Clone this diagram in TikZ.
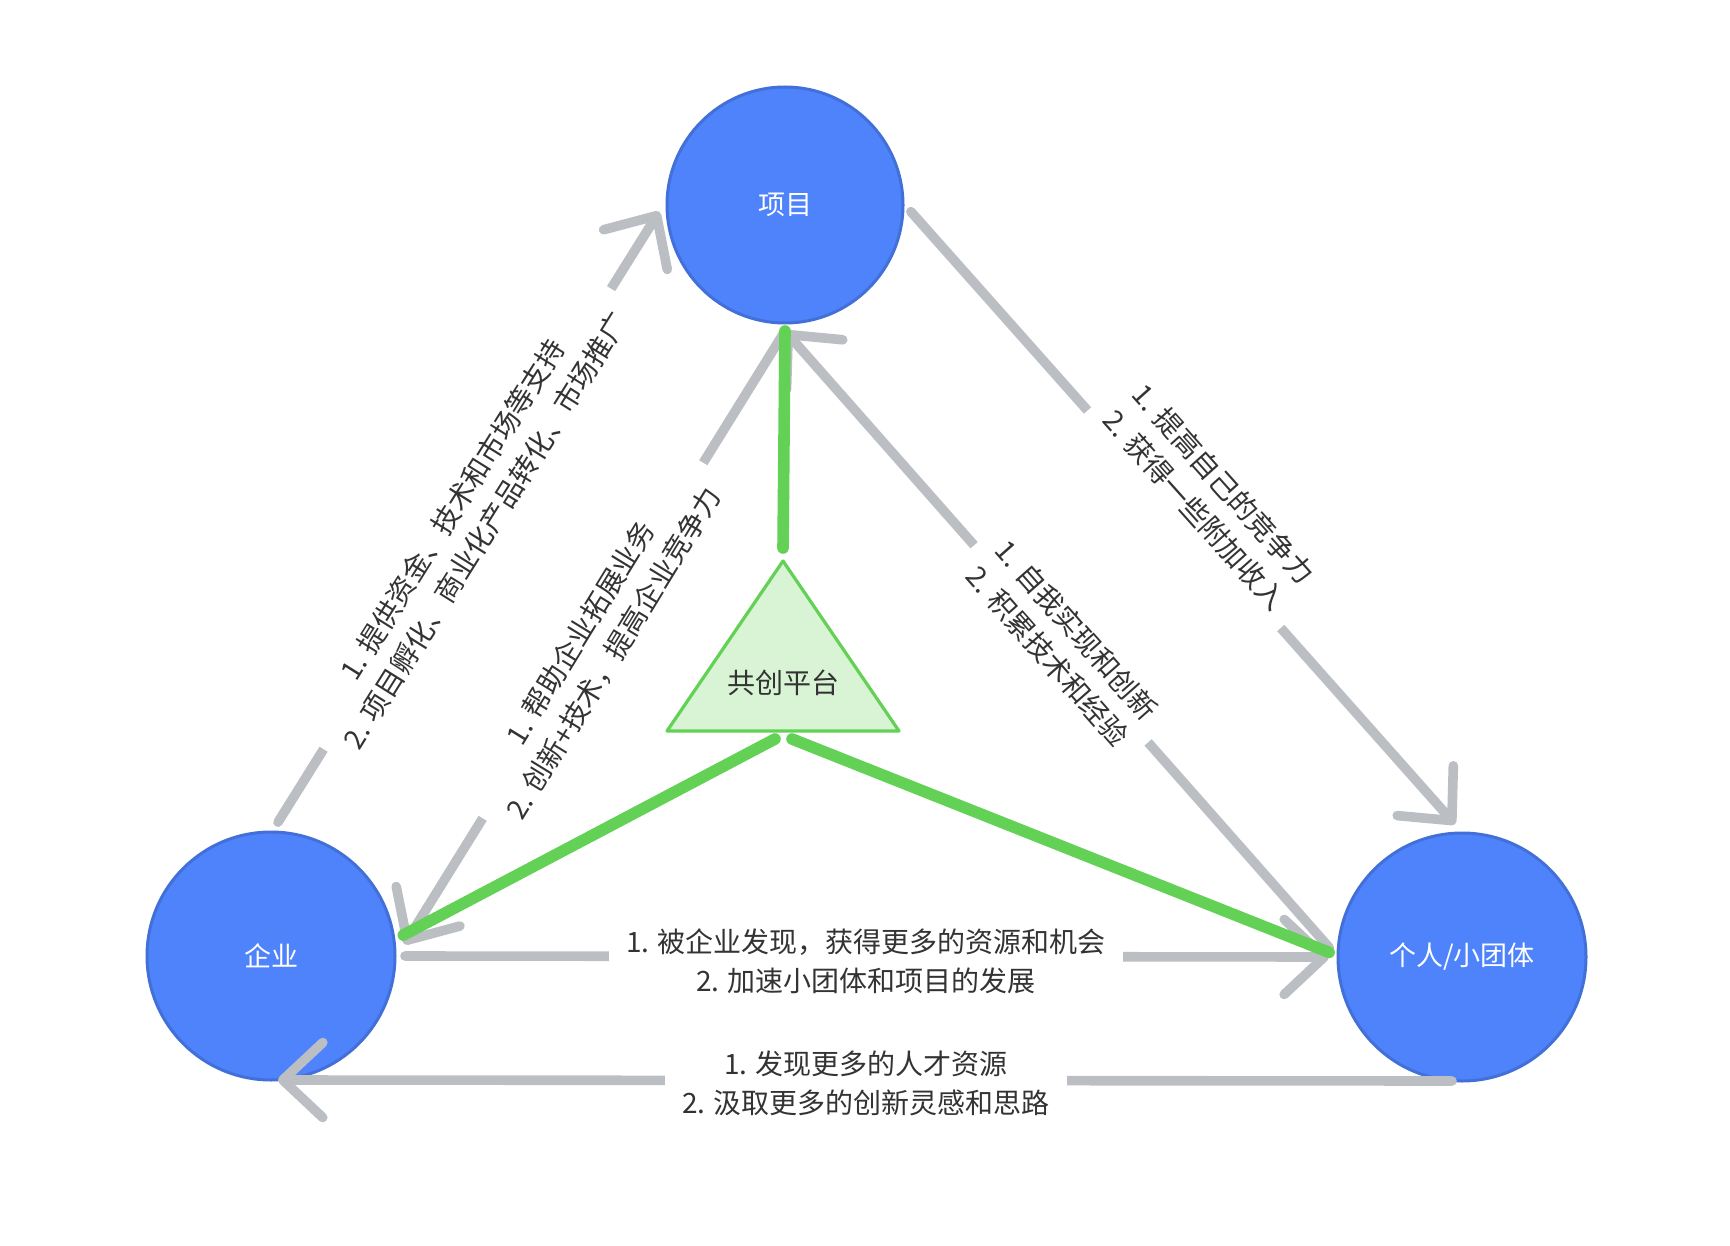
\documentclass[tikz,border=0pt]{standalone}
\usepackage{fontspec}
\newfontfamily\cjk{Noto Sans CJK SC}
\usetikzlibrary{arrows.meta,calc}
\definecolor{nodeblue}{HTML}{4F83FB}
\definecolor{nodeedge}{HTML}{4270D8}
\definecolor{linegray}{HTML}{BBBEC3}
\definecolor{platgreen}{HTML}{62D155}
\definecolor{platfill}{HTML}{D9F4D5}
\definecolor{txt}{HTML}{333333}
\begin{document}
\begin{tikzpicture}[x=0.5pt,y=-0.5pt,
  every node/.style={font=\cjk\fontsize{14pt}{19.5pt}\selectfont},
  party/.style={circle, fill=nodeblue, draw=nodeedge, line width=1.5pt, inner sep=0pt, text=white, font=\cjk\fontsize{13.5pt}{16pt}\selectfont},
  conn/.style={draw=linegray, line width=4.8pt, line cap=round, -{Straight Barb[length=20pt,width=37.5pt,round]}},
  lbl/.style={fill=white, text=txt, align=center, inner xsep=8.75pt, inner ysep=4pt},
  tie/.style={draw=platgreen, line width=5.8pt, line cap=round},
  plat/.style={draw=platgreen, fill=platfill, line width=1.6pt, line join=round}
]
\useasboundingbox (0,0) rectangle (1730,1246);
\fill[white] (0,0) rectangle (1730,1246);

% parties
\node[party, minimum size=118pt, outer sep=4pt] (proj) at (785,205) {项目};
\node[party, minimum size=124pt, outer sep=5pt] (ent) at (271,956) {企业};
\node[party, minimum size=124pt, outer sep=4.5pt] (ind) at (1462,957) {个人/小团体};

% gray connectors
\draw[conn] (ent.87.5) -- (proj.183.7);
\draw[conn] (proj.-3.7) -- (ind.93.5);
\draw[conn] (proj.-90) -- (ent.5);
\draw[conn] (ind.176.5) -- (proj.-90);
\draw[conn] (ent.0) -- (ind.180);
\draw[conn] ([shift={(-5pt,4.5pt)}]ind.south) -- ([shift={(3.5pt,5pt)}]ent.south);

% labels (white boxes cut the connectors)
\node[lbl, rotate=57.9] (lOL) at (469,520) {1. 提供资金、技术和市场等支持\\2. 项目孵化、商业化产品转化、市场推广};
\node[lbl, rotate=58.5] (lIL) at (597,643) {1. 帮助企业拓展业务\\2. 创新+技术，提高企业竞争力};
\node[lbl, rotate=-48.2] (lOR) at (1209,497) {1. 提高自己的竞争力\\2. 获得一些附加收入};
\node[lbl, rotate=-48.6] (lIR) at (1062,643) {1. 自我实现和创新\\2. 积累技术和经验};
\node[lbl] (lTop) at (866,961) {1. 被企业发现，获得更多的资源和机会\\2. 加速小团体和项目的发展};
\node[lbl] (lBot) at (866,1083) {1. 发现更多的人才资源\\2. 汲取更多的创新灵感和思路};

% platform
\coordinate (gA) at (783,548);
\coordinate (gL) at (775,739);
\coordinate (gR) at (792,739);
\draw[tie] (gA) -- (proj.-90);
\draw[tie] (gL) -- (ent.9.7);
\draw[tie] (gR) -- (ind.178);
\coordinate (tA) at (783,561);
\coordinate (tL) at (667,731);
\coordinate (tR) at (899,731);
\draw[plat] (tA) -- (tL) -- (tR) -- cycle;
\node[text=txt] (platT) at (783,683) {共创平台};
\end{tikzpicture}
\end{document}
